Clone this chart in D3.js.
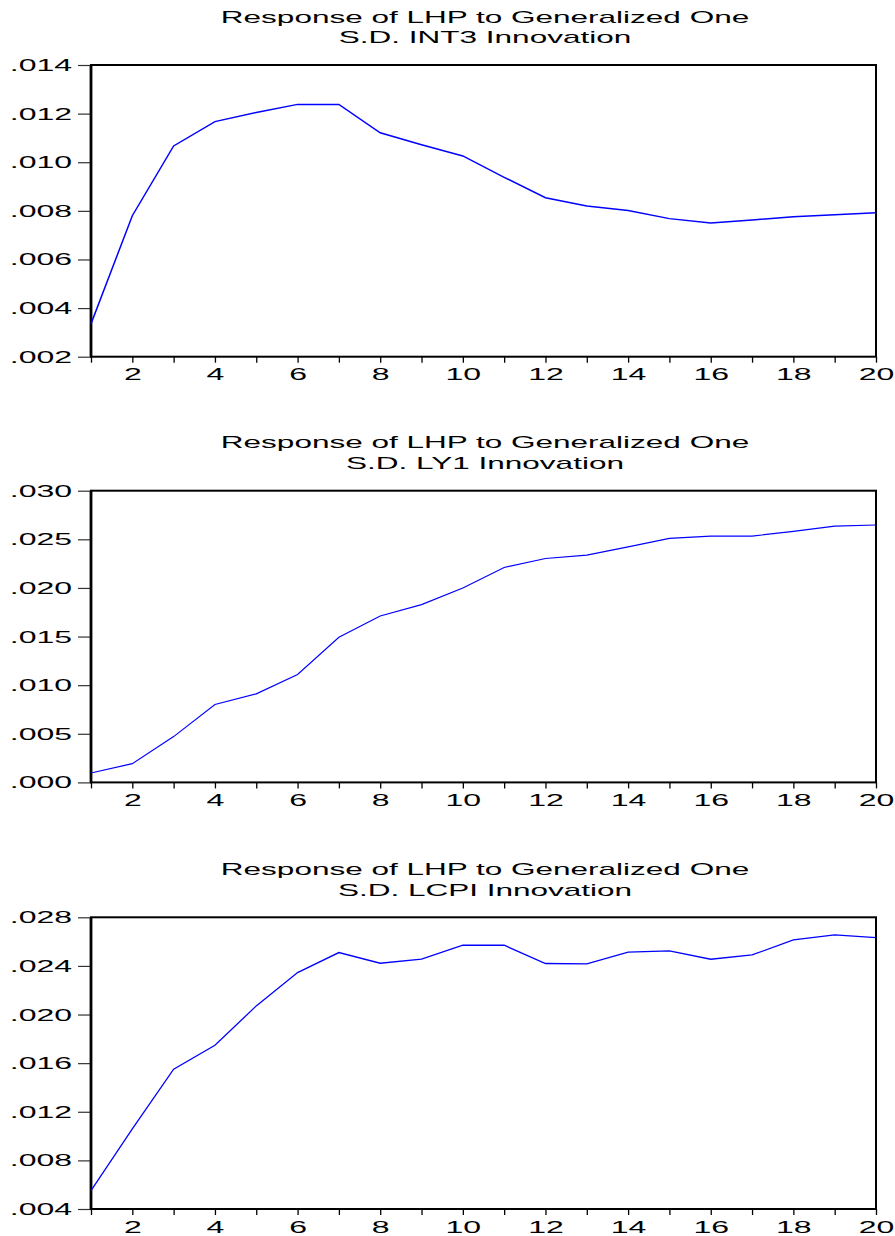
<!DOCTYPE html>
<html>
<head>
<meta charset="utf-8">
<script src="https://cdn.jsdelivr.net/npm/d3@7/dist/d3.min.js"></script>
<style>
  html, body { margin: 0; padding: 0; background: #fff; }
  svg { display: block; }
  text { font-family: "Liberation Sans", Arial, sans-serif; fill: #000; }
</style>
</head>
<body>
<script>
// ---- data ----
const periods = d3.range(1, 21);
const titlesLine1 = ["Response of LHP to Generalized One", "Response of LHP to Generalized One", "Response of LHP to Generalized One"];
const titlesLine2 = ["S.D. INT3 Innovation", "S.D. LY1 Innovation", "S.D. LCPI Innovation"];

const respINT3 = [0.00335, 0.00780, 0.01067, 0.01167, 0.01205, 0.01238, 0.01238, 0.01121, 0.01072, 0.01026,
                  0.00938, 0.00854, 0.00820, 0.00801, 0.00768, 0.00750, 0.00762, 0.00776, 0.00784, 0.00792];
const respLY1  = [0.00097, 0.00193, 0.00471, 0.00801, 0.00911, 0.01110, 0.01492, 0.01711, 0.01829, 0.02000,
                  0.02210, 0.02303, 0.02337, 0.02423, 0.02510, 0.02533, 0.02533, 0.02582, 0.02636, 0.02647];
const respLCPI = [0.00551, 0.01060, 0.01550, 0.01747, 0.02071, 0.02345, 0.02510, 0.02422, 0.02455, 0.02570,
                  0.02570, 0.02420, 0.02416, 0.02513, 0.02523, 0.02455, 0.02490, 0.02614, 0.02655, 0.02633];

const yTicksINT3 = [0.002, 0.004, 0.006, 0.008, 0.010, 0.012, 0.014];
const yTicksLY1  = [0.000, 0.005, 0.010, 0.015, 0.020, 0.025, 0.030];
const yTicksLCPI = [0.004, 0.008, 0.012, 0.016, 0.020, 0.024, 0.028];
const xTickLabels = [2, 4, 6, 8, 10, 12, 14, 16, 18, 20];

const series = [respINT3, respLY1, respLCPI];
const yTickSets = [yTicksINT3, yTicksLY1, yTicksLCPI];

// ---- layout ----
const W = 895, H = 1236;
const plotLeft = 91, plotRight = 876;
const panelTops = [65, 490.7, 917.3];
const panelHeight = 291.7;
const lineWidths = [1.5, 1.2, 1.3];
const SX = 2.0;     // horizontal stretch of glyphs in the original
const TSX = 1.97;

const svg = d3.select("body").append("svg").attr("width", W).attr("height", H);

const x = d3.scaleLinear().domain([1, 20]).range([plotLeft, plotRight]);
const fmt = v => d3.format(".3f")(v).replace(/^0/, "");

series.forEach((vals, p) => {
  const top = panelTops[p], bottom = top + panelHeight;
  const ticks = yTickSets[p];
  const y = d3.scaleLinear().domain([ticks[0], ticks[ticks.length - 1]]).range([bottom, top]);
  const g = svg.append("g");

  // titles
  const cx = 485;
  g.append("text").attr("text-anchor", "middle").style("font-size", "16px")
    .attr("transform", `translate(${cx},${top - 42.5}) scale(${TSX},1)`).text(titlesLine1[p]);
  g.append("text").attr("text-anchor", "middle").style("font-size", "16px")
    .attr("transform", `translate(${cx},${top - 21.7}) scale(${TSX},1)`).text(titlesLine2[p]);

  // y axis
  const yAxis = g.append("g").attr("transform", `translate(${plotLeft},0)`)
    .call(d3.axisLeft(y).tickValues(ticks).tickSize(13).tickFormat(fmt));
  yAxis.select(".domain").remove();
  yAxis.selectAll(".tick line").attr("stroke", "#333").attr("stroke-width", 1.2);
  yAxis.selectAll(".tick text")
    .attr("x", null).attr("dy", null)
    .attr("text-anchor", "end")
    .style("font-size", "16px").style("font-family", "Liberation Sans, Arial, sans-serif")
    .attr("transform", `translate(-19,5.5) scale(${SX},1)`);

  // x axis
  const xAxis = g.append("g").attr("transform", `translate(0,${bottom})`)
    .call(d3.axisBottom(x).tickValues(periods).tickSize(6)
      .tickFormat(d => xTickLabels.includes(d) ? String(d) : ""));
  xAxis.select(".domain").remove();
  xAxis.selectAll(".tick line").attr("stroke", "#000").attr("stroke-width", 1.3);
  xAxis.selectAll(".tick text")
    .attr("y", null).attr("dy", null)
    .attr("text-anchor", "middle")
    .style("font-size", "16px").style("font-family", "Liberation Sans, Arial, sans-serif")
    .attr("transform", `translate(0,23.5) scale(${SX},1)`);

  // frame
  g.append("rect").attr("x", plotLeft).attr("y", top)
    .attr("width", plotRight - plotLeft).attr("height", panelHeight)
    .attr("fill", "none").attr("stroke", "#000").attr("stroke-width", 2);
  g.append("line").attr("x1", plotLeft).attr("x2", plotLeft).attr("y1", top).attr("y2", bottom)
    .attr("stroke", "#000").attr("stroke-width", 2.8);

  // line
  const line = d3.line().x((d, i) => x(periods[i])).y(d => y(d));
  g.append("path").datum(vals).attr("d", line)
    .attr("fill", "none").attr("stroke", "#0000ff").attr("stroke-width", lineWidths[p])
    .attr("stroke-linejoin", "miter");
});
</script>
</body>
</html>
